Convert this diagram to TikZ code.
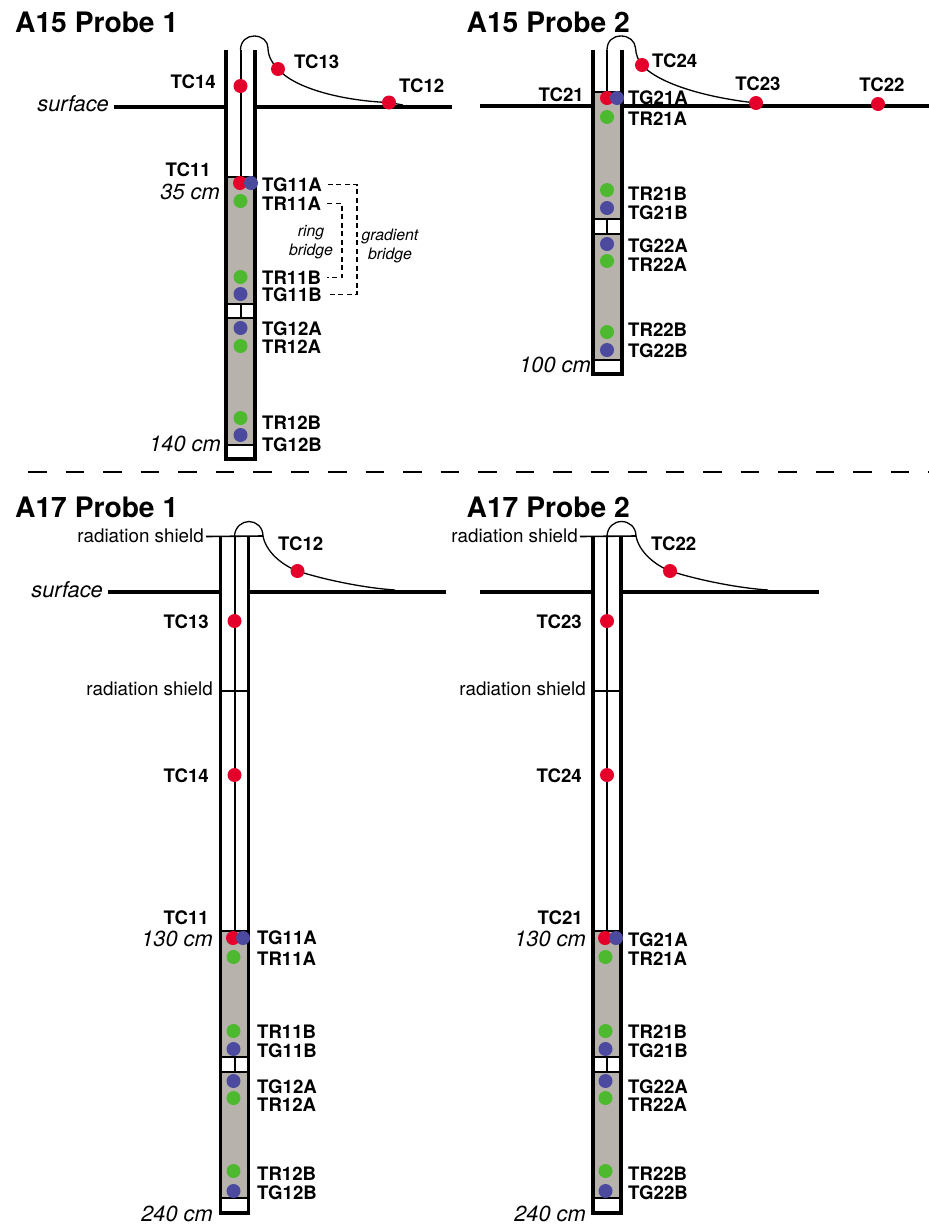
\documentclass[tikz,border=0pt]{standalone}
\usepackage{fontspec}
\setmainfont{TeX Gyre Heros}
\usetikzlibrary{backgrounds}

\definecolor{sensred}{HTML}{E4002B}
\definecolor{sensgreen}{HTML}{4DB92E}
\definecolor{sensblue}{HTML}{4B4A9E}
\definecolor{plugfill}{HTML}{B8B2AD}

\tikzset{
  tcdot/.style={circle,fill=sensred,minimum size=14pt,inner sep=0pt},
  trdot/.style={circle,fill=sensgreen,minimum size=14pt,inner sep=0pt},
  tgdot/.style={circle,fill=sensblue,minimum size=14pt,inner sep=0pt},
  tag/.style={inner sep=0pt,yshift=-0.5pt,font=\fontsize{18.6}{20}\selectfont\bfseries},
  depth/.style={inner sep=0pt,anchor=east,yshift=-0.5pt,font=\fontsize{21.8}{24}\selectfont\itshape},
  shieldtag/.style={inner sep=0pt,anchor=east,yshift=-0.5pt,font=\fontsize{18.8}{21}\selectfont},
  bridgetag/.style={inner sep=0pt,align=center,font=\fontsize{15.8}{19}\selectfont\itshape},
  heading/.style={inner sep=0pt,anchor=west,font=\fontsize{28.2}{30}\selectfont\bfseries},
  wall/.style={line width=3.6pt},
  ground/.style={line width=4pt},
  tube/.style={line width=2pt},
  thinline/.style={line width=2pt},
  cable/.style={line width=1.3pt},
  plug/.style={fill=plugfill,draw=black,line width=1.4pt},
  bridgeline/.style={line width=1.3pt,dash pattern=on 5pt off 3.5pt}
}

\begin{document}
\begin{tikzpicture}[x=1pt,y=-1pt]
\useasboundingbox (0,0) rectangle (929,1224);

% headings
\node [heading] (h151) at (15,22) {A15 Probe 1};
\node [heading] (h152) at (466.5,22) {A15 Probe 2};
\node [heading] (h171) at (15,507) {A17 Probe 1};
\node [heading] (h172) at (466.5,507) {A17 Probe 2};

% A15 probe 1
\node [tcdot] (a1tc14) at (240.5,86) {};
\node [tcdot] (a1tc13) at (278,69) {};
\node [tcdot] (a1tc12) at (389,102.5) {};
\node [tcdot] (a1tc11) at (240,183) {};
\node [tgdot] (a1tg11a) at (251,183) {};
\node [trdot] (a1tr11a) at (240.5,201) {};
\node [trdot] (a1tr11b) at (240.5,277) {};
\node [tgdot] (a1tg11b) at (240.5,294) {};
\node [tgdot] (a1tg12a) at (240.5,328) {};
\node [trdot] (a1tr12a) at (240.5,346) {};
\node [trdot] (a1tr12b) at (240.5,418) {};
\node [tgdot] (a1tg12b) at (240.5,435) {};
\node [tag,anchor=east] (a1l14) at (216,81) {TC14};
\node [tag,anchor=west] (a1l13) at (294,61) {TC13};
\node [tag,anchor=west] (a1l12) at (399,85) {TC12};
\node [tag,anchor=east] (a1l11) at (211,169) {TC11};
\node [tag,anchor=west] (a1lg11a) at (262,184) {TG11A};
\node [tag,anchor=west] (a1lr11a) at (262,203) {TR11A};
\node [tag,anchor=west] (a1lr11b) at (262,277) {TR11B};
\node [tag,anchor=west] (a1lg11b) at (262,294) {TG11B};
\node [tag,anchor=west] (a1lg12a) at (262,328.5) {TG12A};
\node [tag,anchor=west] (a1lr12a) at (262,346) {TR12A};
\node [tag,anchor=west] (a1lr12b) at (262,422) {TR12B};
\node [tag,anchor=west] (a1lg12b) at (262,444) {TG12B};
\node [depth] (a1surf) at (109,103) {surface};
\node [depth] (a1d35) at (220,191) {35 cm};
\node [depth] (a1d140) at (221,443) {140 cm};
\node [bridgetag] (ringtag) at (311,242) {ring\\bridge};
\node [bridgetag] (gradtag) at (390,245.5) {gradient\\bridge};
\draw [bridgeline] ([xshift=6pt]a1lg11a.east) -| (357,240) |- ([xshift=6pt]a1lg11b.east);
\draw [bridgeline] ([xshift=6pt]a1lr11a.east) -| (342,240) |- ([xshift=6pt]a1lr11b.east);

% A15 probe 2
\node [tcdot] (a2tc24) at (642,65) {};
\node [tcdot] (a2tc23) at (756,103) {};
\node [tcdot] (a2tc22) at (878,104) {};
\node [tcdot] (a2tc21) at (607,98) {};
\node [tgdot] (a2tg21a) at (617,98) {};
\node [trdot] (a2tr21a) at (607,117) {};
\node [trdot] (a2tr21b) at (607,190) {};
\node [tgdot] (a2tg21b) at (607,208) {};
\node [tgdot] (a2tg22a) at (607,244) {};
\node [trdot] (a2tr22a) at (607,261) {};
\node [trdot] (a2tr22b) at (607,332) {};
\node [tgdot] (a2tg22b) at (607,350) {};
\node [tag,anchor=west] (a2l24) at (652,60) {TC24};
\node [tag] (a2l23) at (758,83) {TC23};
\node [tag] (a2l22) at (882,84) {TC22};
\node [tag,anchor=east] (a2l21) at (584,94) {TC21};
\node [tag,anchor=west] (a2lg21a) at (628,97) {TG21A};
\node [tag,anchor=west] (a2lr21a) at (628,118) {TR21A};
\node [tag,anchor=west] (a2lr21b) at (628,193) {TR21B};
\node [tag,anchor=west] (a2lg21b) at (628,212) {TG21B};
\node [tag,anchor=west] (a2lg22a) at (628,245) {TG22A};
\node [tag,anchor=west] (a2lr22a) at (628,264) {TR22A};
\node [tag,anchor=west] (a2lr22b) at (628,329) {TR22B};
\node [tag,anchor=west] (a2lg22b) at (628,350) {TG22B};
\node [depth] (a2d100) at (591,364) {100 cm};

% A17 probe 1
\node [tcdot] (b1tc12) at (297.5,571) {};
\node [tcdot] (b1tc13) at (234.5,621) {};
\node [tcdot] (b1tc14) at (234.5,775) {};
\node [tcdot] (b1tc11) at (233,938) {};
\node [tgdot] (b1tg11a) at (243,938) {};
\node [trdot] (b1tr11a) at (233.5,957) {};
\node [trdot] (b1tr11b) at (233.5,1031) {};
\node [tgdot] (b1tg11b) at (233.5,1049) {};
\node [tgdot] (b1tg12a) at (233.5,1081) {};
\node [trdot] (b1tr12a) at (233.5,1098) {};
\node [trdot] (b1tr12b) at (233.5,1171) {};
\node [tgdot] (b1tg12b) at (233.5,1191) {};
\node [tag,anchor=west] (b1l12) at (278,543) {TC12};
\node [tag,anchor=east] (b1l13) at (209,621) {TC13};
\node [tag,anchor=east] (b1l14) at (209,775) {TC14};
\node [tag,anchor=east] (b1l11) at (209,917) {TC11};
\node [tag,anchor=west] (b1lg11a) at (257,937) {TG11A};
\node [tag,anchor=west] (b1lr11a) at (257,958) {TR11A};
\node [tag,anchor=west] (b1lr11b) at (257,1031) {TR11B};
\node [tag,anchor=west] (b1lg11b) at (257,1050) {TG11B};
\node [tag,anchor=west] (b1lg12a) at (257,1086) {TG12A};
\node [tag,anchor=west] (b1lr12a) at (257,1104) {TR12A};
\node [tag,anchor=west] (b1lr12b) at (257,1173) {TR12B};
\node [tag,anchor=west] (b1lg12b) at (257,1192) {TG12B};
\node [depth] (b1surf) at (103,589) {surface};
\node [depth] (b1d130) at (213,938) {130 cm};
\node [depth] (b1d240) at (213,1213) {240 cm};
\node [shieldtag] (b1sh1) at (204,535) {radiation shield};
\node [shieldtag] (b1sh2) at (213,688) {radiation shield};

% A17 probe 2
\node [tcdot] (b2tc22) at (670,571) {};
\node [tcdot] (b2tc23) at (607,621) {};
\node [tcdot] (b2tc24) at (607,775) {};
\node [tcdot] (b2tc21) at (605,938) {};
\node [tgdot] (b2tg21a) at (616,938) {};
\node [trdot] (b2tr21a) at (605.5,957) {};
\node [trdot] (b2tr21b) at (605.5,1031) {};
\node [tgdot] (b2tg21b) at (605.5,1049) {};
\node [tgdot] (b2tg22a) at (605.5,1081) {};
\node [trdot] (b2tr22a) at (605.5,1098) {};
\node [trdot] (b2tr22b) at (605.5,1171) {};
\node [tgdot] (b2tg22b) at (605.5,1191) {};
\node [tag,anchor=west] (b2l22) at (651,543) {TC22};
\node [tag,anchor=east] (b2l23) at (582,621) {TC23};
\node [tag,anchor=east] (b2l24) at (582,775) {TC24};
\node [tag,anchor=east] (b2l21) at (583,917) {TC21};
\node [tag,anchor=west] (b2lg21a) at (628,939) {TG21A};
\node [tag,anchor=west] (b2lr21a) at (628,958) {TR21A};
\node [tag,anchor=west] (b2lr21b) at (628,1031) {TR21B};
\node [tag,anchor=west] (b2lg21b) at (628,1050) {TG21B};
\node [tag,anchor=west] (b2lg22a) at (628,1086) {TG22A};
\node [tag,anchor=west] (b2lr22a) at (628,1104) {TR22A};
\node [tag,anchor=west] (b2lr22b) at (628,1173) {TR22B};
\node [tag,anchor=west] (b2lg22b) at (628,1192) {TG22B};
\node [depth] (b2d130) at (586,938) {130 cm};
\node [depth] (b2d240) at (586,1213) {240 cm};
\node [shieldtag] (b2sh1) at (578,535) {radiation shield};
\node [shieldtag] (b2sh2) at (586,688) {radiation shield};

\begin{scope}[on background layer]

% separator
\draw [line width=1.4pt,dash pattern=on 18.5pt off 19pt] (28,472) -- (929,472);

% A15 probe 1 tube
\draw [plug] (226,177) rectangle (255,304);
\draw [plug] (226,318) rectangle (255,445);
\draw [thinline] (240.5,304) -- (240.5,318);
\draw [tube] (240.5,50) -- (240.5,177);
\draw [wall] (226,50) -- (226,459) -- (255,459) -- (255,50);
\draw [ground] (114,106.5) -- (226,106.5);
\draw [ground] (255,106.5) -- (452,106.5);
\draw [cable] (240.5,50) .. controls (240.5,41) and (247,36) .. (254,36) .. controls (262,36) and (268,41) .. (268,48) .. controls (268,56) and (272,63) .. (a1tc13.center) .. controls (295,89) and (345,101) .. (a1tc12.center) -- (403,105);

% A15 probe 2 tube
\draw [plug] (593,92) rectangle (622,219);
\draw [plug] (593,234) rectangle (622,360);
\draw [thinline] (607,219) -- (607,234);
\draw [tube] (607,50) -- (607,92);
\draw [ground] (480,106) -- (593,106);
\draw [ground] (622,106) -- (929,106);
\draw [wall] (593,50) -- (593,374) -- (622,374) -- (622,50);
\draw [cable] (607,50) .. controls (607,41) and (613,36) .. (621,36) .. controls (629,36) and (635,41) .. (635.5,48) .. controls (636,55) and (638,60) .. (a2tc24.center) .. controls (660,85) and (710,98) .. (a2tc23.center);

% A17 probe 1 tube
\draw [plug] (220,931) rectangle (249,1057);
\draw [plug] (220,1072) rectangle (249,1198);
\draw [thinline] (234.5,1057) -- (234.5,1072);
\draw [tube] (234.5,536) -- (234.5,931);
\draw [wall] (220.5,536) -- (220.5,1213) -- (248.5,1213) -- (248.5,536);
\draw [ground] (108,591.5) -- (220,591.5);
\draw [ground] (249,591.5) -- (446,591.5);
\draw [thinline,line width=1.6pt] (b1sh1.east) ++(2,1) -- (263,536);
\draw [thinline,line width=1.6pt] (221,691) -- (248,691);
\draw [cable] (234.5,536) .. controls (235,527) and (242,521.5) .. (249,521.5) .. controls (256,521.5) and (263,527) .. (263,536) .. controls (266,552) and (282,565) .. (b1tc12.center) .. controls (325,580) and (365,588) .. (395,590);

% A17 probe 2 tube
\draw [plug] (593,931) rectangle (621,1057);
\draw [plug] (593,1072) rectangle (621,1198);
\draw [thinline] (607,1057) -- (607,1072);
\draw [tube] (607,536) -- (607,931);
\draw [wall] (593,536) -- (593,1213) -- (621,1213) -- (621,536);
\draw [ground] (480,591.5) -- (593,591.5);
\draw [ground] (622,591.5) -- (819,591.5);
\draw [thinline,line width=1.6pt] (b2sh1.east) ++(2,1) -- (636,536);
\draw [thinline,line width=1.6pt] (594,691) -- (620,691);
\draw [cable] (607,536) .. controls (607.5,527) and (614,521.5) .. (621.5,521.5) .. controls (629,521.5) and (636,527) .. (636,536) .. controls (639,552) and (655,565) .. (b2tc22.center) .. controls (698,580) and (738,588) .. (768,590);

\end{scope}

\end{tikzpicture}
\end{document}
